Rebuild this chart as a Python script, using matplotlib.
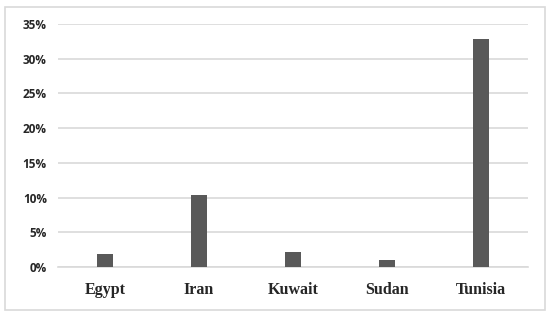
import matplotlib
matplotlib.use("Agg")
import matplotlib.pyplot as plt
from matplotlib.patches import Rectangle
from matplotlib.ticker import FuncFormatter

countries = ["Egypt", "Iran", "Kuwait", "Sudan", "Tunisia"]
values = [1.9, 10.4, 2.2, 1.0, 32.9]
yticks = [0, 5, 10, 15, 20, 25, 30, 35]

fig = plt.figure(figsize=(5.5, 3.17), dpi=100)
fig.patch.set_facecolor("white")
fig.patches.append(Rectangle((5/550, 1 - 310/317), 540/550, 303/317,
                             transform=fig.transFigure, fill=False,
                             edgecolor="#d9d9d9", linewidth=1.2))

ax = fig.add_axes([58/550, 1 - 267/317, 470/550, 243/317])
x = range(len(countries))
ax.bar(x, values, width=0.16, color="#595959", zorder=3)
ax.set_xlim(-0.5, len(countries) - 0.5)
ax.set_ylim(0, 35)
ax.set_yticks(yticks)
ax.yaxis.set_major_formatter(FuncFormatter(lambda v, p: f"{int(v)}%"))
ax.grid(axis="y", color="#d9d9d9", linewidth=1.2, zorder=0)
ax.set_axisbelow(True)
for s in ["top", "right", "left"]:
    ax.spines[s].set_visible(False)
ax.spines["bottom"].set_color("#d9d9d9")
ax.spines["bottom"].set_linewidth(1.2)
ax.tick_params(axis="both", length=0)
ax.tick_params(axis="y", pad=8)
ax.tick_params(axis="x", pad=11)
ax.set_xticks(list(x))
ax.set_xticklabels(countries, fontfamily="Liberation Serif", fontweight="bold",
                   fontsize=11.5, color="#262626")
for lbl in ax.get_yticklabels():
    lbl.set_fontfamily("Open Sans")
    lbl.set_fontweight("bold")
    lbl.set_fontsize(8.5)
    lbl.set_color("#262626")

fig.savefig("out.png", dpi=100, facecolor="white")
